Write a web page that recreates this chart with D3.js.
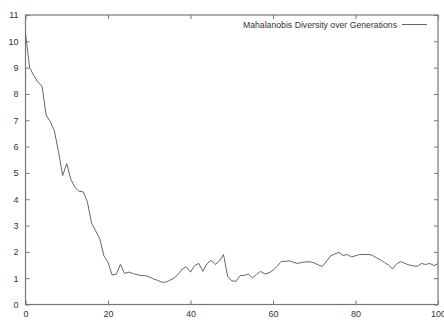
<!DOCTYPE html>
<html>
<head>
<meta charset="utf-8">
<script src="https://cdn.jsdelivr.net/npm/d3@7"></script>
<style>
  html, body { margin: 0; padding: 0; background: #fff; }
  svg { display: block; }
  text { font-family: "Liberation Sans", Arial, Helvetica, sans-serif; fill: #333; }
</style>
</head>
<body>
<svg id="chart" width="444" height="320"></svg>
<script>
// Diversity measured at each generation (0..100)
const generations = d3.range(0, 101);
const diversity = [
  10.3, 9.0, 8.7, 8.45, 8.3, 7.2, 6.95, 6.6, 5.8, 4.9,
  5.35, 4.75, 4.45, 4.3, 4.28, 3.9, 3.1, 2.8, 2.5, 1.85,
  1.6, 1.12, 1.15, 1.52, 1.18, 1.23, 1.18, 1.14, 1.1, 1.1,
  1.05, 0.97, 0.92, 0.85, 0.85, 0.92, 1.0, 1.14, 1.35, 1.43,
  1.23, 1.48, 1.56, 1.26, 1.55, 1.68, 1.52, 1.65, 1.9, 1.07,
  0.9, 0.88, 1.1, 1.1, 1.16, 1.01, 1.14, 1.26, 1.16, 1.2,
  1.3, 1.45, 1.64, 1.64, 1.66, 1.6, 1.56, 1.6, 1.62, 1.62,
  1.58, 1.5, 1.45, 1.65, 1.85, 1.92, 1.98, 1.86, 1.9, 1.81,
  1.85, 1.9, 1.9, 1.9, 1.88, 1.78, 1.7, 1.6, 1.5, 1.35,
  1.55, 1.63, 1.56, 1.5, 1.47, 1.45, 1.56, 1.52, 1.56, 1.48,
  1.55
];
const xTicks = [0, 20, 40, 60, 80, 100];
const yTicks = [0, 1, 2, 3, 4, 5, 6, 7, 8, 9, 10, 11];
const legendLabel = "Mahalanobis Diversity over Generations";

const svg = d3.select("#chart");
const plotLeft = 25.5, plotRight = 438, plotTop = 15, plotBottom = 304.5;

const x = d3.scaleLinear().domain([0, 100]).range([plotLeft, plotRight]);
const y = d3.scaleLinear().domain([0, 11]).range([plotBottom, plotTop]);

const frameColor = "#777";
const tickLen = 4;

// Frame
svg.append("rect")
  .attr("x", plotLeft).attr("y", plotTop)
  .attr("width", plotRight - plotLeft).attr("height", plotBottom - plotTop)
  .attr("fill", "none").attr("stroke", frameColor).attr("stroke-width", 1.2);

// Bottom and top ticks (drawn inward)
const bottomAxis = d3.axisBottom(x).tickValues(xTicks).tickSize(-tickLen).tickPadding(6);
const gb = svg.append("g").attr("transform", `translate(0,${plotBottom})`).call(bottomAxis);
const topAxis = d3.axisTop(x).tickValues(xTicks).tickSize(-tickLen).tickFormat("");
const gt = svg.append("g").attr("transform", `translate(0,${plotTop})`).call(topAxis);

// Left and right ticks (drawn inward)
const leftAxis = d3.axisLeft(y).tickValues(yTicks).tickSize(-tickLen).tickPadding(7);
const gl = svg.append("g").attr("transform", `translate(${plotLeft},0)`).call(leftAxis);
const rightAxis = d3.axisRight(y).tickValues(yTicks).tickSize(-tickLen).tickFormat("");
const gr = svg.append("g").attr("transform", `translate(${plotRight},0)`).call(rightAxis);

[gb, gt, gl, gr].forEach(g => {
  g.select(".domain").remove();
  g.selectAll(".tick line").attr("stroke", frameColor).attr("stroke-width", 1);
  g.selectAll(".tick text")
    .style("font-family", '"Liberation Sans", Arial, sans-serif')
    .style("font-size", "9px")
    .attr("fill", "#444");
});
gb.selectAll(".tick text").attr("dy", "0.71em").attr("y", 6);

// Data line
const line = d3.line()
  .x((d, i) => x(generations[i]))
  .y(d => y(d));

svg.append("path")
  .datum(diversity)
  .attr("fill", "none")
  .attr("stroke", "#666")
  .attr("stroke-width", 1)
  .attr("stroke-linejoin", "round")
  .attr("d", line);

// Legend
svg.append("text")
  .attr("x", 397).attr("y", 27.5)
  .attr("text-anchor", "end")
  .style("font-size", "8.7px")
  .attr("fill", "#444")
  .text(legendLabel);
svg.append("line")
  .attr("x1", 402).attr("x2", 427)
  .attr("y1", 24.5).attr("y2", 24.5)
  .attr("stroke", "#666").attr("stroke-width", 1);
</script>
</body>
</html>
